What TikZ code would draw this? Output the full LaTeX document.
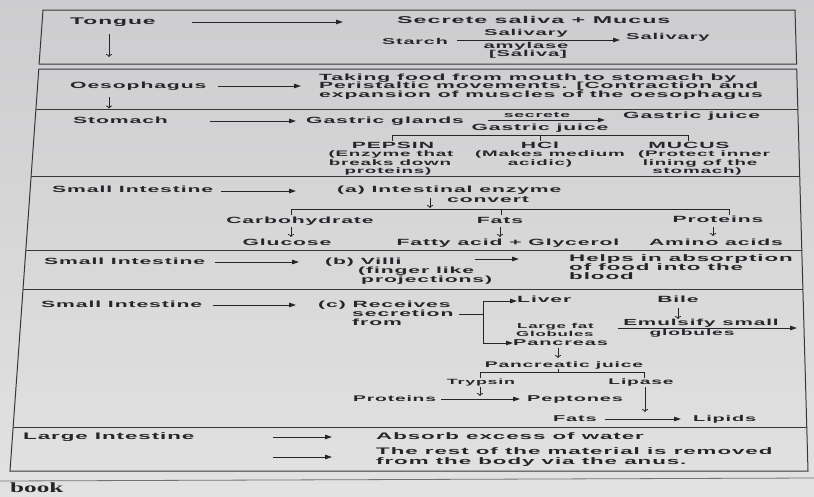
\documentclass[tikz,border=0pt]{standalone}
\usepackage{fontspec}
\newfontface\tf{Liberation Sans Bold}[FakeStretch=2.35,LetterSpace=10]
\newfontface\bk{Liberation Serif Bold}[FakeStretch=1.8]
\usetikzlibrary{arrows.meta}
\definecolor{ink}{RGB}{38,38,42}
\definecolor{rule}{RGB}{55,55,58}
\definecolor{pagetop}{RGB}{205,205,207}
\definecolor{pagebot}{RGB}{226,226,226}
\tikzset{
  fs/.style={font=\tf\fontsize{#1}{#1}\selectfont},
  lbl/.style={fs=9, inner sep=0pt, text=ink},
  L/.style={lbl, anchor=mid west},
  C/.style={lbl, anchor=mid},
  frame/.style={draw=rule, line width=1pt},
  arr/.style={draw=ink, line width=0.8pt, -{Triangle[length=7pt,width=4.5pt]}},
  darr/.style={draw=ink, line width=0.8pt, -{To[length=3pt,width=6pt]}},
  brk/.style={draw=ink, line width=0.8pt},
}
\begin{document}
\begin{tikzpicture}[x=1pt,y=-1pt]
\useasboundingbox (0,0) rectangle (814,496);
\shade[top color=pagetop, bottom color=pagebot] (0,0) rectangle (814,496);
% frames
\draw[frame] (43,10) -- (795,10) -- (796.6,64) -- (39.1,64) -- cycle;
\draw[frame] (38.8,69) -- (796.7,69) -- (808,471) -- (10,471) -- cycle;
\draw[frame] (35.9,109.5) -- (797.9,109.5);
\draw[frame] (31.1,176) -- (799.7,176);
\draw[frame] (25.8,250) -- (801.8,250);
\draw[frame] (23.0,289) -- (802.9,289);
\draw[frame] (13.1,427) -- (806.7,427);
\draw[draw=rule!70, line width=0.8pt] (0,481) -- (814,478);
\node[font=\bk\fontsize{14}{14}\selectfont, text=ink, inner sep=0pt, anchor=mid west] (book) at (10,490) {book};

% Row 1: Tongue
\node[L, fs=9.7] (tongue) at (70,22) {Tongue};
\coordinate (t1a) at (192,22); \coordinate (t1b) at (343,22);
\draw[arr] (t1a) -- (t1b);
\node[L, fs=9.9] (secrete) at (397,21) {Secrete saliva + Mucus};
\coordinate (td1) at (109,34); \coordinate (td2) at (109,57);
\draw[darr] (td1) -- (td2);
\node[L, fs=8.4] (starch) at (382,42) {Starch};
\coordinate (sa) at (457,40); \coordinate (sb) at (620,40);
\draw[arr] (sa) -- (sb);
\node[C, fs=8.6] (salv1) at (526,33.5) {Salivary};
\node[C, fs=8.6] (amyl) at (526,46) {amylase};
\node[C, fs=8.6] (saliva) at (528,54) {[Saliva]};
\node[L, fs=8.6] (salv2) at (626,37) {Salivary};

% Row 2: Oesophagus
\node[L] (oeso) at (70,86) {Oesophagus};
\coordinate (o1a) at (218,86); \coordinate (o1b) at (301,86);
\draw[arr] (o1a) -- (o1b);
\node[L] (ot1) at (319,78) {Taking food from mouth to stomach by};
\node[L] (ot2) at (319,86.5) {Peristaltic movements. [Contraction and};
\node[L] (ot3) at (319,95) {expansion of muscles of the oesophagus};
\coordinate (od1) at (109,97); \coordinate (od2) at (109,108.5);
\draw[darr] (od1) -- (od2);

% Row 3: Stomach
\node[L] (stom) at (73,121) {Stomach};
\coordinate (s1a) at (210,121); \coordinate (s1b) at (296,121);
\draw[arr] (s1a) -- (s1b);
\node[L] (glands) at (306,121) {Gastric glands};
\coordinate (g1a) at (488,120); \coordinate (g1b) at (605,120);
\draw[arr] (g1a) -- (g1b);
\node[C, fs=7.5] (secr) at (537,115.5) {secrete};
\node[L] (gj1) at (623,116.5) {Gastric juice};
\node[C] (gj2) at (540,128.5) {Gastric juice};
\draw[brk] (392,141) -- (392,135) -- (688,135) -- (688,141);
\draw[brk] (540,135) -- (540,141);
\node[C] (pepsin) at (393,146) {PEPSIN};
\node[C, fs=8] (pep1) at (391,154.5) {(Enzyme that};
\node[C, fs=8] (pep2) at (390,163) {breaks down};
\node[C, fs=8] (pep3) at (388,171.5) {proteins)};
\node[C] (hcl) at (540,146) {HCl};
\node[C, fs=8] (hcl1) at (550,154.5) {(Makes medium};
\node[C, fs=8] (hcl2) at (540,163) {acidic)};
\node[C] (mucus) at (689,146) {MUCUS};
\node[C, fs=8] (muc1) at (704,154.5) {(Protect inner};
\node[C, fs=8] (muc2) at (700,163) {lining of the};
\node[C, fs=8] (muc3) at (697,171.5) {stomach)};

% Row 4: Small intestine (a)
\node[L] (sia) at (52,190) {Small Intestine};
\coordinate (a1a) at (221,191); \coordinate (a1b) at (296,191);
\draw[arr] (a1a) -- (a1b);
\node[L] (enz) at (337,190) {(a) Intestinal enzyme};
\coordinate (cv1) at (430,198); \coordinate (cv2) at (430,208);
\draw[darr] (cv1) -- (cv2);
\node[L] (conv) at (447,200) {convert};
\draw[brk] (291,215) -- (291,209) -- (729,209) -- (729,215);
\draw[brk] (501,209) -- (501,215);
\node[C] (carb) at (300,221) {Carbohydrate};
\node[C] (fats) at (500,221) {Fats};
\node[C] (prot) at (718,220) {Proteins};
\node[C] (gluc) at (287,243.5) {Glucose};
\node[C] (fatty) at (508,243.5) {Fatty acid + Glycerol};
\node[C] (amino) at (716,243) {Amino acids};
\coordinate (c1) at (291,227); \coordinate (c2) at (291,237);
\draw[darr] (c1) -- (c2);
\coordinate (f1) at (500,227); \coordinate (f2) at (500,237);
\draw[darr] (f1) -- (f2);
\coordinate (p1) at (713,227); \coordinate (p2) at (713,236);
\draw[darr] (p1) -- (p2);

% Row 5: Small intestine (b)
\node[L] (sib) at (44,262) {Small Intestine};
\coordinate (b1a) at (215,262); \coordinate (b1b) at (299,262);
\draw[arr] (b1a) -- (b1b);
\node[L] (villi) at (325,262) {(b) Villi};
\node[L] (vil1) at (358,271) {(finger like};
\node[L] (vil2) at (361,280) {projections)};
\coordinate (b2a) at (475,259); \coordinate (b2b) at (519,259);
\draw[arr] (b2a) -- (b2b);
\node[L, fs=9.5] (helps) at (569,259) {Helps in absorption};
\node[L, fs=9.5] (helps2) at (569,268) {of food into the};
\node[L, fs=9.5] (helps3) at (569,277) {blood};

% Row 6: Small intestine (c)
\node[L] (sic) at (41,305) {Small Intestine};
\coordinate (c1a) at (213,305); \coordinate (c1b) at (296,305);
\draw[arr] (c1a) -- (c1b);
\node[L] (recv) at (318,305) {(c) Receives};
\node[L] (recv2) at (352,314) {secretion};
\node[L] (recv3) at (352,323) {from};
\coordinate (d1) at (459,314); \coordinate (d2) at (483,314);
\draw[brk] (d1) -- (d2);
\coordinate (bt) at (483,301); \coordinate (bb) at (483,343);
\draw[brk] (bt) -- (bb);
\node[L] (liver) at (517,300.5) {Liver};
\node[L, fs=8.5] (panc) at (513,343) {Pancreas};
\draw[arr] (bt) -- (liver.west |- bt);
\draw[arr] (bb) -- (panc.west |- bb);
\node[L, fs=7.2] (lfat) at (517,326) {Large fat};
\node[L, fs=7.2] (glob) at (516,334.5) {Globules};
\node[C] (bile) at (678,300) {Bile};
\coordinate (bl1) at (678,308); \coordinate (bl2) at (678,319);
\draw[darr] (bl1) -- (bl2);
\node[C, fs=8.8] (emul) at (701,323.5) {Emulsify small};
\coordinate (e1) at (618,328); \coordinate (e2) at (797,328);
\draw[arr] (e1) -- (e2);
\node[C, fs=8.2] (glob2) at (692,333.5) {globules};
\coordinate (pd1) at (558,348); \coordinate (pd2) at (558,358);
\draw[darr] (pd1) -- (pd2);
\node[C, fs=8.2] (pjuice) at (564,365) {Pancreatic juice};
\draw[brk] (480,378) -- (480,372) -- (644,372) -- (644,378);
\draw[brk] (558,368.5) -- (558,372);
\node[C, fs=7.6] (tryp) at (481,382) {Trypsin};
\node[C, fs=8.2] (lipase) at (641,382) {Lipase};
\coordinate (tr1) at (480,387); \coordinate (tr2) at (480,396);
\draw[darr] (tr1) -- (tr2);
\node[L, fs=8.2] (prot2) at (353,399) {Proteins};
\coordinate (pr1) at (441,399); \coordinate (pr2) at (520,399);
\draw[arr] (pr1) -- (pr2);
\node[L, fs=8.5] (pept) at (527,399) {Peptones};
\coordinate (lp1) at (645,387); \coordinate (lp2) at (645,412);
\draw[darr] (lp1) -- (lp2);
\node[L, fs=8.5] (fats2) at (553,419) {Fats};
\coordinate (ft1) at (605,419); \coordinate (ft2) at (681,419);
\draw[arr] (ft1) -- (ft2);
\node[L, fs=8.5] (lipids) at (693,419) {Lipids};

% Row 7: Large intestine
\node[L, fs=9.5] (large) at (23,437) {Large Intestine};
\coordinate (l1a) at (273,437); \coordinate (l1b) at (332,437);
\draw[arr] (l1a) -- (l1b);
\node[L, fs=9.5] (absorb) at (376,437) {Absorb excess of water};
\coordinate (l2a) at (273,457); \coordinate (l2b) at (332,457);
\draw[arr] (l2a) -- (l2b);
\node[L, fs=9.5] (rest1) at (376,452) {The rest of the material is removed};
\node[L, fs=9.5] (rest2) at (376,462) {from the body via the anus.};
\end{tikzpicture}
\end{document}
